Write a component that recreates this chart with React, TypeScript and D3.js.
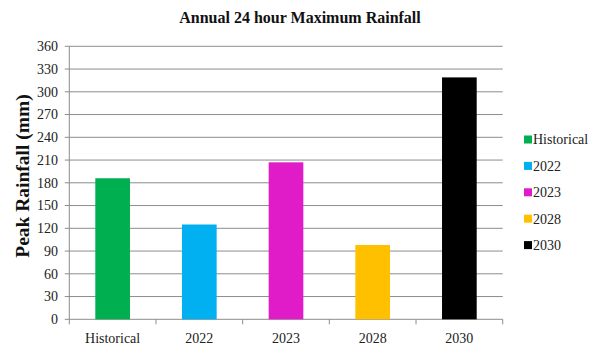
import React from "react";
import * as d3 from "d3";

const categories = ["Historical", "2022", "2023", "2028", "2030"];
const values = [186, 125, 207, 98, 319];
const colors = ["#00b050", "#00b0f0", "#e01cc8", "#ffc000", "#000000"];
const yTicks = [0, 30, 60, 90, 120, 150, 180, 210, 240, 270, 300, 330, 360];

export default function App() {
  const W = 603, H = 347;
  const left = 69.3, right = 502.7, top = 46.3, bottom = 319.3;
  const band = d3.scaleBand<string>().domain(categories).range([left, right]).padding(0);
  const y = d3.scaleLinear().domain([0, 360]).range([bottom, top]);
  const font = "'Liberation Serif', 'Times New Roman', serif";
  const bw = band.bandwidth() / 2.5;
  return (
    <svg width={W} height={H} style={{ position: "absolute", left: 0, top: 0, background: "#fff" }} fontFamily={font}>
      <text x={300} y={23} textAnchor="middle" fontSize={16} fontWeight="bold" fill="#111">Annual 24 hour Maximum Rainfall</text>
      {yTicks.map((t) => (
        <g key={t}>
          <line x1={left - 4.5} x2={t === 0 ? left : right} y1={y(t)} y2={y(t)} stroke="#8c8c8c" strokeWidth={1} />
          <text x={58} y={y(t)} dy="0.35em" textAnchor="end" fontSize={14} fill="#222">{t}</text>
        </g>
      ))}
      <line x1={left} x2={left} y1={top} y2={bottom} stroke="#8c8c8c" />
      <line x1={left} x2={right} y1={bottom} y2={bottom} stroke="#8c8c8c" />
      {categories.map((c) => (
        <line key={"t" + c} x1={(band(c) as number) + band.bandwidth()} x2={(band(c) as number) + band.bandwidth()} y1={bottom} y2={bottom + 5} stroke="#8c8c8c" />
      ))}
      <line x1={left} x2={left} y1={bottom} y2={bottom + 5} stroke="#8c8c8c" />
      {categories.map((c, i) => {
        const cx = (band(c) as number) + band.bandwidth() / 2;
        return (
          <g key={c}>
            <rect x={cx - bw / 2} y={y(values[i])} width={bw} height={bottom - y(values[i])} fill={colors[i]} />
            <text x={cx} y={343} textAnchor="middle" fontSize={14} fill="#222">{c}</text>
          </g>
        );
      })}
      <text transform={`translate(28.5, 176) rotate(-90)`} textAnchor="middle" fontSize={19.5} fontWeight="bold" fill="#111">Peak Rainfall (mm)</text>
      {categories.map((c, i) => (
        <g key={"l" + c}>
          <rect x={524} y={139.5 + i * 26.4 - 4} width={8} height={8} fill={colors[i]} />
          <text x={533} y={139.5 + i * 26.4} dy="0.35em" fontSize={14} fill="#222">{c}</text>
        </g>
      ))}
    </svg>
  );
}
